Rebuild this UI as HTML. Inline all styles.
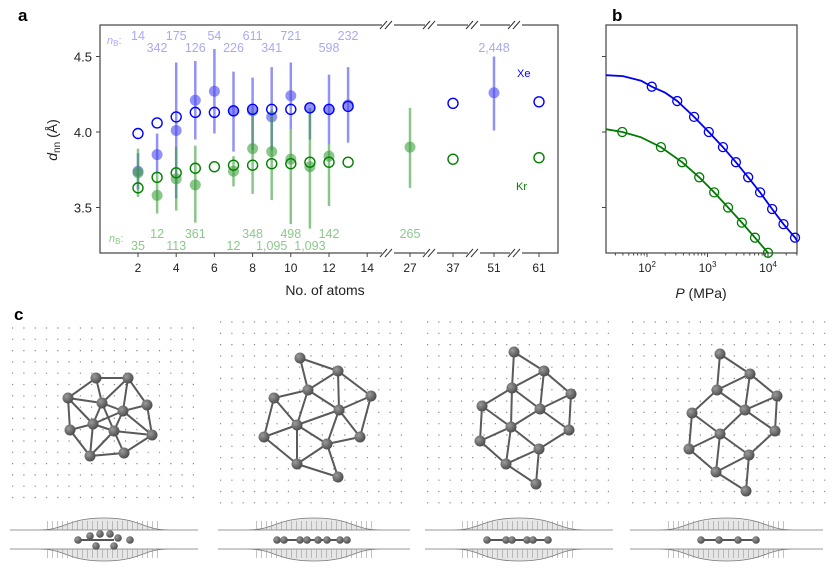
<!DOCTYPE html>
<html><head><meta charset="utf-8"><style>
body{margin:0;background:#fff;}
svg{display:block;font-family:"Liberation Sans",sans-serif;}
</style></head><body>
<svg id="fig" width="834" height="570" viewBox="0 0 834 570" xmlns="http://www.w3.org/2000/svg">
<defs>
<radialGradient id="ball" cx="35%" cy="35%" r="70%"><stop offset="0" stop-color="#9a9a9a"/><stop offset="1" stop-color="#4a4a4a"/></radialGradient>
</defs>
<text x="18" y="21" font-size="17" font-weight="bold">a</text>
<text x="612" y="21" font-size="17" font-weight="bold">b</text>
<text x="14" y="320" font-size="17" font-weight="bold">c</text>
<g id="ga"></g><g id="gb"></g><g id="gc"></g>
</svg>
<script>
// ---- Panel a data ----
const xeCalcN=[2,3,4,5,6,7,8,9,10,11,12,13,37,61];
const xeCalcD=[3.99,4.06,4.10,4.13,4.13,4.14,4.15,4.15,4.15,4.16,4.15,4.17,4.19,4.20];
const krCalcN=[2,3,4,5,6,7,8,9,10,11,12,13,37,61];
const krCalcD=[3.63,3.70,3.73,3.76,3.77,3.78,3.78,3.79,3.79,3.80,3.80,3.80,3.82,3.83];
const xeExpN=[2,3,4,5,6,7,8,9,10,11,12,13,51];
const xeExpD=[3.74,3.85,4.01,4.21,4.27,4.14,4.14,4.10,4.24,4.16,4.15,4.18,4.26];
const xeExpLo=[3.62,3.72,3.56,3.95,3.99,3.87,3.88,3.88,4.02,3.95,3.92,3.93,4.01];
const xeExpHi=[3.86,3.99,4.46,4.47,4.55,4.40,4.36,4.43,4.46,4.16,4.38,4.43,4.50];
const krExpN=[2,3,4,5,7,8,9,10,11,12,27];
const krExpD=[3.73,3.58,3.69,3.65,3.74,3.89,3.87,3.82,3.77,3.84,3.90];
const krExpLo=[3.57,3.46,3.48,3.40,3.64,3.59,3.55,3.39,3.36,3.51,3.63];
const krExpHi=[3.89,3.72,3.90,3.91,3.84,4.14,4.15,4.02,4.15,3.92,4.16];
const xeCountN=[2,4,6,8,10,13,3,5,7,9,12,51];
const xeCountRow=[0,0,0,0,0,0,1,1,1,1,1,1];
const xeCountTxt=["14","175","54","611","721","232","342","126","226","341","598","2,448"];
const krCountN=[3,5,8,10,12,27,2,4,7,9,11];
const krCountRow=[0,0,0,0,0,0,1,1,1,1,1];
const krCountTxt=["12","361","348","498","142","265","35","113","12","1,095","1,093"];
const yTicks=[3.5,4.0,4.5];
const xTicksLin=[2,4,6,8,10,12,14];
const xTicksBrk=[27,37,51,61];
// ---- Panel b data ----
const xeP=[120,316,600,1050,1800,2950,4700,7400,11700,18000,28000];
const xeD=[4.30,4.205,4.10,4.00,3.90,3.80,3.70,3.60,3.49,3.39,3.30];
const krP=[39,170,380,730,1290,2190,3700,6100,10000];
const krD=[4.00,3.90,3.80,3.70,3.60,3.50,3.40,3.30,3.20];
const xeFitP=[20,40,80,120,200,316,600,1050,1800,2950,4700,7400,11700,18000,28000,30000];
const xeFitD=[4.377,4.37,4.34,4.30,4.26,4.205,4.10,4.00,3.90,3.80,3.70,3.60,3.49,3.39,3.30,3.28];
const krFitP=[20,39,80,170,380,730,1290,2190,3700,6100,10000,11000];
const krFitD=[4.02,4.00,3.965,3.90,3.80,3.70,3.60,3.50,3.40,3.30,3.20,3.18];
const bXTicks=[2,3,4];

const NS="http://www.w3.org/2000/svg";
function mk(parent,tag,attrs,text){const e=document.createElementNS(NS,tag);for(const k in attrs)e.setAttribute(k,attrs[k]);if(text!==undefined)e.textContent=text;parent.appendChild(e);return e;}

const ya=v=>132-(v-4)*151;
function xa(n){if(n<=14)return 138+(n-2)*19.1;const m={27:410,37:453,51:494,61:539};return m[n];}
const ga=document.getElementById('ga');
let fr=mk(ga,'rect',{x:100,y:25,width:458,height:228,fill:'none',stroke:'#444','stroke-width':1.2});

[388,431,474,516].forEach(bx=>{[25,253].forEach(by=>{
 mk(ga,'rect',{x:bx-6,y:by-2,width:12,height:4,fill:'#fff'});
 let b=mk(ga,'path',{d:`M${bx-8} ${by+4}L${bx-1} ${by-4}M${bx-3} ${by+4}L${bx+4} ${by-4}`,stroke:'#333','stroke-width':1,fill:'none'});
 
});});
yTicks.forEach(v=>{mk(ga,'line',{x1:96,x2:100,y1:ya(v),y2:ya(v),stroke:'#444'});
 let t=mk(ga,'text',{x:92,y:ya(v)+5,'font-size':13,'text-anchor':'end',fill:'#222'},v.toFixed(1));
 });
xTicksLin.concat(xTicksBrk).forEach(n=>{mk(ga,'line',{x1:xa(n),x2:xa(n),y1:253,y2:257,stroke:'#444'});
 let t=mk(ga,'text',{x:xa(n),y:272,'font-size':12,'text-anchor':'middle',fill:'#222'},n);
 });
let xl=mk(ga,'text',{x:325,y:295,'font-size':14,'text-anchor':'middle',fill:'#222'},'No. of atoms');

let yl=mk(ga,'text',{x:0,y:0,'font-size':14,'text-anchor':'middle',fill:'#222',transform:'translate(57,140) rotate(-90)'});

yl.innerHTML='<tspan font-style="italic">d</tspan><tspan font-size="10" dy="3">nn</tspan><tspan dy="-3"> (Å)</tspan>';
function expSeries(N,D,Lo,Hi,col,name){N.forEach((n,i)=>{
 let l=mk(ga,'line',{x1:xa(n),x2:xa(n),y1:ya(Hi[i]),y2:ya(Lo[i]),stroke:col,'stroke-width':2.5,opacity:0.6});
 
 let c=mk(ga,'circle',{cx:xa(n),cy:ya(D[i]),r:5.5,fill:col,opacity:0.6});
 });}
expSeries(xeExpN,xeExpD,xeExpLo,xeExpHi,'#4a4af0','xe-experiment');
expSeries(krExpN,krExpD,krExpLo,krExpHi,'#3ea03e','kr-experiment');
function calcSeries(N,D,col,name){N.forEach((n,i)=>{
 let c=mk(ga,'circle',{cx:xa(n),cy:ya(D[i]),r:5,fill:'none',stroke:col,'stroke-width':1.4});
 });}
calcSeries(xeCalcN,xeCalcD,'#0000ff','xe-calculated');
calcSeries(krCalcN,krCalcD,'#008000','kr-calculated');
xeCountN.forEach((n,i)=>{let t=mk(ga,'text',{x:xa(n),y:xeCountRow[i]?52:40,'font-size':12.5,'text-anchor':'middle',fill:'#a9a9f2'},xeCountTxt[i]);
 });
krCountN.forEach((n,i)=>{let t=mk(ga,'text',{x:xa(n),y:krCountRow[i]?250:238,'font-size':12.5,'text-anchor':'middle',fill:'#8cc88c'},krCountTxt[i]);
 });
let nb1=mk(ga,'text',{x:107,y:44,'font-size':11,fill:'#a9a9f2'});nb1.innerHTML='<tspan font-style="italic">n</tspan><tspan font-size="8" dy="2">B</tspan><tspan dy="-2">:</tspan>';

let nb2=mk(ga,'text',{x:109,y:242,'font-size':11,fill:'#8cc88c'});nb2.innerHTML='<tspan font-style="italic">n</tspan><tspan font-size="8" dy="2">B</tspan><tspan dy="-2">:</tspan>';

let lx=mk(ga,'text',{x:517,y:77,'font-size':11,fill:'#0000ff'},'Xe');
let lk=mk(ga,'text',{x:516,y:190,'font-size':11,fill:'#008000'},'Kr');

// ---- Panel b ----
const gb=document.getElementById('gb');
const xb=p=>647+(Math.log10(p)-2)*60.5;
const yb=ya;
let cp=mk(gb,'clipPath',{id:'cb'});mk(cp,'rect',{x:606,y:25,width:191,height:228});
let frb=mk(gb,'rect',{x:606,y:25,width:191,height:228,fill:'none',stroke:'#444','stroke-width':1.2});

yTicks.forEach(v=>{let t=mk(gb,'line',{x1:602,x2:606,y1:yb(v),y2:yb(v),stroke:'#444'});});
for(let e=1;e<=4;e++)for(let k=1;k<=9;k++){const p=k*Math.pow(10,e);const x=xb(p);if(x<606||x>797)continue;
 mk(gb,'line',{x1:x,x2:x,y1:253,y2:k==1?257:255.5,stroke:'#444'});}
bXTicks.forEach(e=>{let t=mk(gb,'text',{x:xb(Math.pow(10,e)),y:272,'font-size':12,'text-anchor':'middle',fill:'#222'});
 t.innerHTML='10<tspan font-size="8" dy="-5">'+e+'</tspan>';});
let bl=mk(gb,'text',{x:701,y:298,'font-size':14,'text-anchor':'middle',fill:'#222'});bl.innerHTML='<tspan font-style="italic">P</tspan> (MPa)';

function fit(P,D,col,name){let d=P.map((p,i)=>(i?'L':'M')+xb(p).toFixed(1)+' '+yb(D[i]).toFixed(1)).join('');
 let l=mk(gb,'path',{d:d,fill:'none',stroke:col,'stroke-width':1.8,'clip-path':'url(#cb)'});}
fit(xeFitP,xeFitD,'#0000ee','xe-fit-line');fit(krFitP,krFitD,'#007a00','kr-fit-line');
function pts(P,D,col,name){P.forEach((p,i)=>{let c=mk(gb,'circle',{cx:xb(p),cy:yb(D[i]),r:4.5,fill:'none',stroke:col,'stroke-width':1.3});
 });}
pts(xeP,xeD,'#0000ee','xe-pressure-point');pts(krP,krD,'#007a00','kr-pressure-point');

// ---- Panel c ----
const gc=document.getElementById('gc');
const panels=[
 {x0:12,x1:200,y0:328,y1:502,cut:40,atoms:[[68,398],[96,378],[128,378],[102,403],[123,411],[147,405],[93,424],[114,431],[152,435],[70,430],[90,456],[124,453]],side:[[78,540],[90,536],[100,534],[110,534],[118,538],[130,540],[96,546],[114,546]]},
 {x0:220,x1:412,y0:322,y1:508,cut:45,atoms:[[300,358],[338,371],[308,390],[274,398],[371,396],[339,410],[297,425],[264,437],[360,437],[327,444],[297,464],[338,477]],side:[[277,540],[284,540],[300,540],[307,540],[318,540],[327,540],[340,540],[347,540]]},
 {x0:427,x1:615,y0:322,y1:505,cut:40,atoms:[[514,352],[544,371],[512,388],[482,406],[571,394],[540,409],[511,427],[480,441],[569,430],[539,449],[506,464],[536,484]],side:[[487,540],[506,540],[512,540],[527,540],[533,540],[548,540]]},
 {x0:632,x1:825,y0:322,y1:505,cut:40,atoms:[[720,354],[750,374],[717,390],[692,413],[777,396],[745,410],[720,434],[689,449],[775,431],[749,455],[716,472],[746,491]],side:[[701,540],[719,540],[738,540],[756,540]]}
];
panels.forEach((P,pi)=>{
 let g=mk(gc,'g',{});
 let dots='';for(let y=P.y0;y<=P.y1;y+=11.3)for(let x=P.x0;x<=P.x1;x+=11.3)dots+=`M${x.toFixed(1)} ${y.toFixed(1)}h1.2`;
 mk(g,'path',{d:dots,stroke:'#888','stroke-width':1.2,fill:'none'});
 const A=P.atoms;let bonds='';
 for(let i=0;i<A.length;i++)for(let j=i+1;j<A.length;j++){const d=Math.hypot(A[i][0]-A[j][0],A[i][1]-A[j][1]);if(d<P.cut)bonds+=`M${A[i][0]} ${A[i][1]}L${A[j][0]} ${A[j][1]}`;}
 mk(g,'path',{d:bonds,stroke:'#5a5a5a','stroke-width':2,fill:'none'});
 A.forEach(a=>mk(g,'circle',{cx:a[0],cy:a[1],r:5.5,fill:'url(#ball)'}));
 const sx0=P.x0-2,sx1=P.x1-2,cx=(sx0+sx1)/2,w=(sx1-sx0);
 let top=`M${sx0} 530 L${cx-w*0.35} 530 C${cx-w*0.2} 530 ${cx-w*0.2} 518 ${cx} 518 C${cx+w*0.2} 518 ${cx+w*0.2} 530 ${cx+w*0.35} 530 L${sx1} 530`;
 let bot=`M${sx0} 549 L${cx-w*0.35} 549 C${cx-w*0.2} 549 ${cx-w*0.2} 561 ${cx} 561 C${cx+w*0.2} 561 ${cx+w*0.2} 549 ${cx+w*0.35} 549 L${sx1} 549`;
 mk(g,'path',{d:top+`Z`,fill:'#e6e6e6',stroke:'#777','stroke-width':0.8});
 mk(g,'path',{d:bot+`Z`,fill:'#e6e6e6',stroke:'#777','stroke-width':0.8});
 let hatch='';for(let x=cx-w*0.3;x<=cx+w*0.3;x+=5){hatch+=`M${x.toFixed(1)} 521V530M${x.toFixed(1)} 549V558`;}
 mk(g,'path',{d:hatch,stroke:'#999','stroke-width':0.6});
 const S=P.side;mk(g,'line',{x1:S[0][0],x2:S[S.length-1][0],y1:540,y2:540,stroke:'#555','stroke-width':2});
 S.forEach(s=>mk(g,'circle',{cx:s[0],cy:s[1],r:3.8,fill:'url(#ball)'}));
});
</script>
</body></html>
